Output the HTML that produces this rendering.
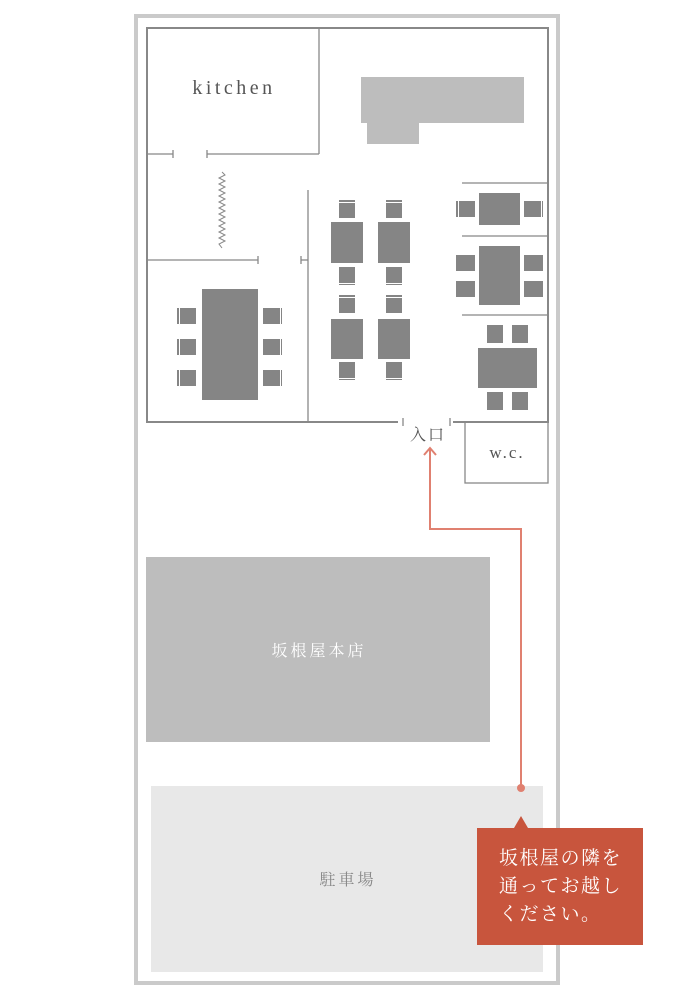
<!DOCTYPE html>
<html><head><meta charset="utf-8"><style>
html,body{margin:0;padding:0;background:#fff;}
svg{display:block;}
text{font-family:"Liberation Serif","Noto Serif CJK SC",serif;}
</style></head><body>
<svg width="690" height="999" viewBox="0 0 690 999" xmlns="http://www.w3.org/2000/svg">
<rect x="136" y="16" width="422" height="967" fill="#fff" stroke="#cacaca" stroke-width="4"/>
<g fill="none" stroke="#888" stroke-width="2">
<rect x="147" y="28" width="401" height="394"/>
</g>
<g stroke="#888" stroke-width="1.3" fill="none">
<line x1="319" y1="28" x2="319" y2="154"/>
<line x1="147" y1="154" x2="173" y2="154"/><line x1="173" y1="150" x2="173" y2="158"/>
<line x1="207" y1="154" x2="319" y2="154"/><line x1="207" y1="150" x2="207" y2="158"/>
<polyline stroke-width="1" points="222,172 225,175 219,178 225,181 219,184 225,187 219,190 225,193 219,196 225,199 219,202 225,205 219,208 225,211 219,214 225,217 219,220 225,223 219,226 225,229 219,232 225,235 219,238 225,241 219,244 222,248"/>
<line x1="147" y1="260" x2="258" y2="260"/><line x1="258" y1="256" x2="258" y2="264"/>
<line x1="301" y1="260" x2="308" y2="260"/><line x1="301" y1="256" x2="301" y2="264"/>
<line x1="308" y1="190" x2="308" y2="422"/>
<line x1="462" y1="183" x2="548" y2="183"/>
<line x1="462" y1="236" x2="548" y2="236"/>
<line x1="462" y1="315" x2="548" y2="315"/>
<rect x="465" y="422" width="83" height="61"/>
</g>
<rect x="398" y="419" width="55" height="6" fill="#fff"/>
<g stroke="#888" stroke-width="1.3"><line x1="403" y1="418" x2="403" y2="426"/><line x1="450" y1="418" x2="450" y2="426"/></g>
<rect x="361" y="77" width="163" height="46" fill="#bdbdbd"/>
<rect x="367" y="123" width="52" height="21" fill="#bdbdbd"/>
<g fill="#858585">
<rect x="339" y="200" width="16" height="18"/><rect x="386" y="200" width="16" height="18"/>
<rect x="331" y="222" width="32" height="41"/><rect x="378" y="222" width="32" height="41"/>
<rect x="339" y="267" width="16" height="18"/><rect x="386" y="267" width="16" height="18"/>
<rect x="339" y="295" width="16" height="18"/><rect x="386" y="295" width="16" height="18"/>
<rect x="331" y="319" width="32" height="40"/><rect x="378" y="319" width="32" height="40"/>
<rect x="339" y="362" width="16" height="18"/><rect x="386" y="362" width="16" height="18"/>
<rect x="479" y="193" width="41" height="32"/>
<rect x="456" y="201" width="19" height="16"/><rect x="524" y="201" width="19" height="16"/>
<rect x="479" y="246" width="41" height="59"/>
<rect x="456" y="255" width="19" height="16"/><rect x="456" y="281" width="19" height="16"/>
<rect x="524" y="255" width="19" height="16"/><rect x="524" y="281" width="19" height="16"/>
<rect x="487" y="325" width="16" height="18"/><rect x="512" y="325" width="16" height="18"/>
<rect x="478" y="348" width="59" height="40"/>
<rect x="487" y="392" width="16" height="18"/><rect x="512" y="392" width="16" height="18"/>
<rect x="202" y="289" width="56" height="111"/>
<rect x="177" y="308" width="19" height="16"/><rect x="177" y="339" width="19" height="16"/><rect x="177" y="370" width="19" height="16"/>
<rect x="263" y="308" width="19" height="16"/><rect x="263" y="339" width="19" height="16"/><rect x="263" y="370" width="19" height="16"/>
</g>
<g fill="#fff">
<rect x="339" y="202" width="16" height="1"/><rect x="386" y="202" width="16" height="1"/>
<rect x="339" y="297" width="16" height="1"/><rect x="386" y="297" width="16" height="1"/>
<rect x="339" y="283" width="16" height="1"/><rect x="386" y="283" width="16" height="1"/>
<rect x="339" y="378" width="16" height="1"/><rect x="386" y="378" width="16" height="1"/>
<rect x="458" y="201" width="1" height="16"/><rect x="541" y="201" width="1" height="16"/>
<rect x="179" y="308" width="1" height="78"/><rect x="280" y="308" width="1" height="78"/>
</g>
<text x="234" y="94" font-size="20" fill="#555" text-anchor="middle" letter-spacing="3.5">kitchen</text>
<text x="428" y="440" font-size="16" fill="#555" text-anchor="middle" letter-spacing="2">入口</text>
<text x="507" y="458" font-size="17" fill="#555" text-anchor="middle" letter-spacing="2">w.c.</text>
<rect x="146" y="557" width="344" height="185" fill="#bdbdbd"/>
<text x="319" y="656" font-size="16" fill="#fff" text-anchor="middle" letter-spacing="3">坂根屋本店</text>
<rect x="151" y="786" width="392" height="186" fill="#e8e8e8"/>
<text x="348" y="885" font-size="16" fill="#888" text-anchor="middle" letter-spacing="3">駐車場</text>
<polyline points="521,788 521,529 430,529 430,448" fill="none" stroke="#e08070" stroke-width="2"/>
<polyline points="424,455 430,448 436,455" fill="none" stroke="#e08070" stroke-width="2"/>
<circle cx="521" cy="788" r="4" fill="#e08070"/>
<rect x="477" y="828" width="166" height="117" fill="#c8553d"/>
<polygon points="521,816 514,828 528,828" fill="#c8553d"/>
<g font-size="19" fill="#fff" letter-spacing="1.5">
<text x="499" y="864">坂根屋の隣を</text>
<text x="499" y="892">通ってお越し</text>
<text x="499" y="920">ください。</text>
</g>
</svg>
</body></html>
